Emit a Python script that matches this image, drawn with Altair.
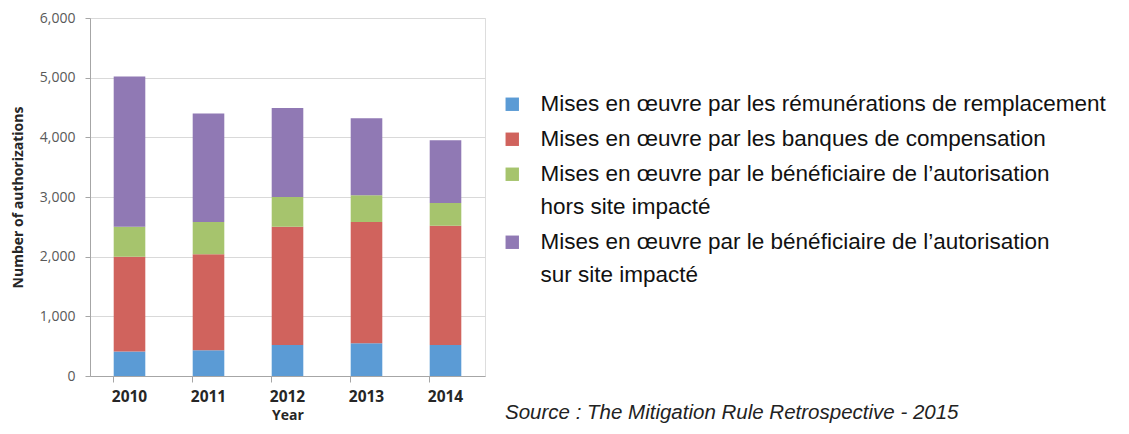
import altair as alt
import pandas as pd

years = ["2010", "2011", "2012", "2013", "2014"]
series = [
    "Mises en œuvre par les rémunérations de remplacement",
    "Mises en œuvre par les banques de compensation",
    "Mises en œuvre par le bénéficiaire de l’autorisation\nhors site impacté",
    "Mises en œuvre par le bénéficiaire de l’autorisation\nsur site impacté",
]
colors = ["#5b9bd5", "#d0635d", "#a6c46d", "#9079b4"]
# segment sizes per series (stacked bottom to top)
in_lieu = [410, 430, 520, 550, 520]
banks = [1590, 1610, 1980, 2030, 2000]
offsite = [500, 540, 500, 450, 380]
onsite = [2520, 1820, 1490, 1290, 1050]

values = [in_lieu, banks, offsite, onsite]
rows = []
for si, (name, vals) in enumerate(zip(series, values)):
    for y, v in zip(years, vals):
        rows.append({"Year": y, "Series": name, "Value": v, "order": si})
df = pd.DataFrame(rows)

bars = alt.Chart(df).mark_bar().encode(
    x=alt.X("Year:N", title="Year",
            scale=alt.Scale(paddingInner=0.6, paddingOuter=0.3),
            axis=alt.Axis(labelAngle=0, bandPosition=0,
                          labelFont="Open Sans", labelFontSize=15.5, labelFontWeight="bold",
                          labelColor="#262626", labelPadding=7,
                          titleFont="Open Sans", titleFontSize=14, titleFontWeight="bold",
                          titleColor="#262626", titlePadding=4,
                          tickSize=6, tickColor="#a6a6a6", domainColor="#a6a6a6",
                          grid=False)),
    y=alt.Y("Value:Q", title="Number of authorizations", stack="zero",
            scale=alt.Scale(domain=[0, 6000], nice=False),
            axis=alt.Axis(values=[0, 1000, 2000, 3000, 4000, 5000, 6000], format=",.0f",
                          ticks=True, tickSize=5, tickColor="#a6a6a6", labelPadding=10,
                          labelFont="Open Sans", labelFontSize=14, labelColor="#595959",
                          titleFont="Open Sans", titleFontSize=14, titleFontWeight="bold",
                          titleColor="#262626", titlePadding=14,
                          domainColor="#a6a6a6", gridColor="#d9d9d9")),
    color=alt.Color("Series:N", title=None,
                    scale=alt.Scale(domain=series, range=colors),
                    legend=alt.Legend(orient="none", legendX=411, legendY=75,
                                      symbolType="square", symbolSize=180,
                                      symbolStrokeWidth=0,
                                      labelFont="Liberation Sans", labelFontSize=22.5,
                                      labelColor="#111111", labelLimit=800,
                                      labelOffset=17, rowPadding=12,
                                      labelExpr="split(datum.label, '\\n')")),
    order=alt.Order("order:Q"),
)

source = alt.Chart(pd.DataFrame({"t": ["Source : The Mitigation Rule Retrospective - 2015"]})).mark_text(
    font="Liberation Sans", fontSize=20.5, fontStyle="italic", align="left", baseline="middle",
    color="#222222"
).encode(x=alt.value(415), y=alt.value(395), text="t:N")

chart = alt.layer(bars, source).properties(
    width=395, height=358,
    autosize=alt.AutoSizeParams(type="none"),
    padding={"left": 82, "top": 10, "right": 636, "bottom": 50},
).configure_view(stroke=None).configure(
    background="white",
    style={"guide-label": {"lineHeight": 33}},
)

chart.save("out.html", embed_options={"renderer": "svg", "actions": False})
